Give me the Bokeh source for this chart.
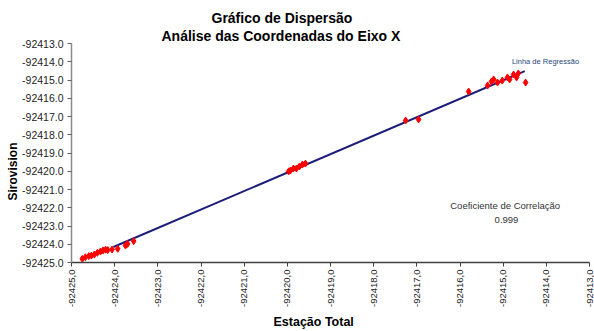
import math
import numpy as np
from bokeh.plotting import figure
from bokeh.models import Range1d, FixedTicker, CustomJSTickFormatter, Label, Title
from bokeh.embed import file_html
from bokeh.resources import INLINE

# ---- data ----
estacao_total = [
    -92424.75, -92424.68, -92424.60, -92424.54, -92424.47, -92424.40, -92424.33,
    -92424.27, -92424.21, -92424.16, -92424.06, -92423.93, -92423.75, -92423.70,
    -92423.56,
    -92419.97, -92419.93, -92419.86, -92419.79, -92419.72, -92419.65, -92419.58,
    -92417.26, -92416.96,
    -92415.80, -92415.36, -92415.27, -92415.22, -92415.13, -92415.02, -92414.90,
    -92414.85, -92414.76, -92414.69, -92414.65, -92414.48,
]
sirovision = [
    -92424.80, -92424.71, -92424.65, -92424.62, -92424.56, -92424.47, -92424.40,
    -92424.34, -92424.30, -92424.32, -92424.29, -92424.25, -92424.07, -92423.98,
    -92423.83,
    -92420.01, -92419.96, -92419.85, -92419.85, -92419.74, -92419.63, -92419.58,
    -92417.22, -92417.16,
    -92415.63, -92415.30, -92415.08, -92414.97, -92415.14, -92415.03, -92414.86,
    -92414.97, -92414.70, -92414.86, -92414.64, -92415.14,
]
regression_x_extent = [-92424.03, -92414.50]
x_ticks = [-92425.0, -92424.0, -92423.0, -92422.0, -92421.0, -92420.0, -92419.0,
           -92418.0, -92417.0, -92416.0, -92415.0, -92414.0, -92413.0]
y_ticks = [-92425.0, -92424.0, -92423.0, -92422.0, -92421.0, -92420.0, -92419.0,
           -92418.0, -92417.0, -92416.0, -92415.0, -92414.0, -92413.0]
correlation = "0.999"

# ---- regression fit ----
xa = np.array(estacao_total)
ya = np.array(sirovision)
x0 = xa.mean()
slope, intercept = np.polyfit(xa - x0, ya, 1)
lx = np.array(regression_x_extent)
ly = slope * (lx - x0) + intercept

p = figure(width=594, height=331, output_backend="svg", toolbar_location=None,
           x_range=Range1d(min(x_ticks), max(x_ticks)),
           y_range=Range1d(min(y_ticks), max(y_ticks)),
           min_border_left=71, min_border_right=5, min_border_top=43, min_border_bottom=69)
p.outline_line_color = None
p.grid.visible = False
p.background_fill_color = "white"
p.border_fill_color = "white"

p.line(lx, ly, line_color="#1c1c7a", line_width=2)
p.scatter(estacao_total, sirovision, marker="diamond", size=7, color="#ff0000")

font = "Liberation Sans"

# x axis
xa_ = p.xaxis[0]
xa_.ticker = FixedTicker(ticks=x_ticks)
xa_.formatter = CustomJSTickFormatter(code="return tick.toFixed(1).replace('.', ',');")
xa_.major_label_orientation = math.pi / 2
xa_.major_label_text_font = font
xa_.major_label_text_font_size = "9.5px"
xa_.major_label_text_color = "#222222"
xa_.axis_line_color = "#404040"
xa_.axis_line_width = 1.5
xa_.major_tick_line_color = "#404040"
xa_.major_tick_in = 0
xa_.major_tick_out = 4
xa_.minor_tick_line_color = None
xa_.major_label_standoff = 3

# y axis
ya_ = p.yaxis[0]
ya_.ticker = FixedTicker(ticks=y_ticks)
ya_.formatter = CustomJSTickFormatter(code="return tick.toFixed(1);")
ya_.major_label_text_font = font
ya_.major_label_text_font_size = "10.5px"
ya_.major_label_text_color = "#222222"
ya_.axis_line_color = "#8a8a8a"
ya_.axis_line_width = 1.5
ya_.major_tick_line_color = "#606060"
ya_.major_tick_in = 0
ya_.major_tick_out = 4
ya_.minor_tick_line_color = None
ya_.major_label_standoff = 4

# titles and axis captions
def title(text, loc, size, offset, standoff=0):
    p.add_layout(Title(text=text, align="left", offset=offset, standoff=standoff,
                       text_font=font, text_font_size=size, text_font_style="bold",
                       text_color="#000000"), loc)

title("Análise das Coordenadas do Eixo X", "above", "14px", 90, 0)
title("Gráfico de Dispersão", "above", "14px", 140, 0)
title("Sirovision", "left", "12px", 62, 0)
title("Estação Total", "below", "12.5px", 202, 4)

# texts inside the plot area (screen units relative to frame bottom-left)
def lab(text, sx, sy, size, color):
    p.add_layout(Label(x=sx, y=sy, x_units="screen", y_units="screen", text=text,
                       text_font=font, text_font_size=size, text_color=color,
                       text_align="center", text_baseline="middle"))

lab("Linha de Regressão", 545 - 71, 262 - 61, "7.5px", "#1f497d")
lab("Coeficiente  de Correlação", 506 - 71, 262 - 205, "9.5px", "#333333")
lab(correlation, 506 - 71, 262 - 219, "9.5px", "#333333")

open("out.html", "w").write(file_html(p, INLINE))
